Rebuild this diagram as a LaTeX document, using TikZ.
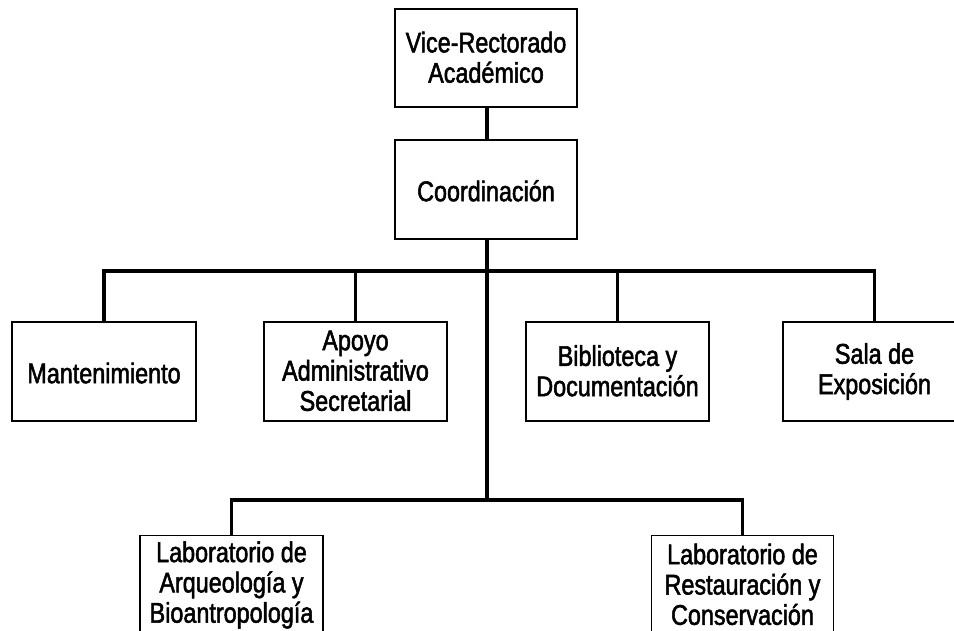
\documentclass[tikz,border=0pt]{standalone}
\usepackage{fontspec}
\setmainfont{Liberation Sans}[FakeStretch=0.82,FakeBold=1.8]
\newcommand\boxstrut{\rule[-1.6pt]{0pt}{26.6pt}}
\begin{document}
\begin{tikzpicture}[x=1pt,y=-1pt,
  unit/.style={draw=black,line width=1.3pt,rectangle,minimum width=183pt,minimum height=99pt,
    inner sep=0pt,align=center,font=\fontsize{28.5}{30.3}\selectfont,
    execute at begin node={\boxstrut},execute at end node={\boxstrut}},
  conn/.style={draw=black,line width=3.6pt,line join=miter}]
\useasboundingbox (0,0) rectangle (954,631);
\clip (0,0) rectangle (954,631);
\node[unit,minimum width=182pt,minimum height=98pt] (vice) at (486,58) {Vice-Rectorado\\Académico};
\node[unit,minimum width=182pt] (coord) at (486,189.5) {Coordinación};
\node[unit,minimum width=184pt] (mant) at (104,371.5) {Mantenimiento};
\node[unit] (apoyo) at (355.5,371.5) {Apoyo\\Administrativo\\Secretarial};
\node[unit] (bibl) at (617.5,371.5) {Biblioteca y\\Documentación};
\node[unit] (sala) at (874.5,371.5) {Sala de\\Exposición};
\node[unit] (arq) at (231.5,585) {Laboratorio de\\Arqueología y\\Bioantropología};
\node[unit,minimum width=182pt] (rest) at (742.5,585) {Laboratorio de\\Restauración y\\Conservación};
\coordinate (bu) at (487,271);
\coordinate (bl) at (487,500);
\draw[conn] (vice.south -| bu) -- (coord.north -| bu);
\draw[conn] (coord.south -| bu) -- (bl);
\draw[conn] (mant.north) -- (mant.north |- bu) -- (sala.north |- bu) -- (sala.north);
\draw[conn] (apoyo.north) -- (apoyo.north |- bu);
\draw[conn] (bibl.north) -- (bibl.north |- bu);
\draw[conn] (arq.north) -- (arq.north |- bl) -- (rest.north |- bl) -- (rest.north);
\end{tikzpicture}
\end{document}
